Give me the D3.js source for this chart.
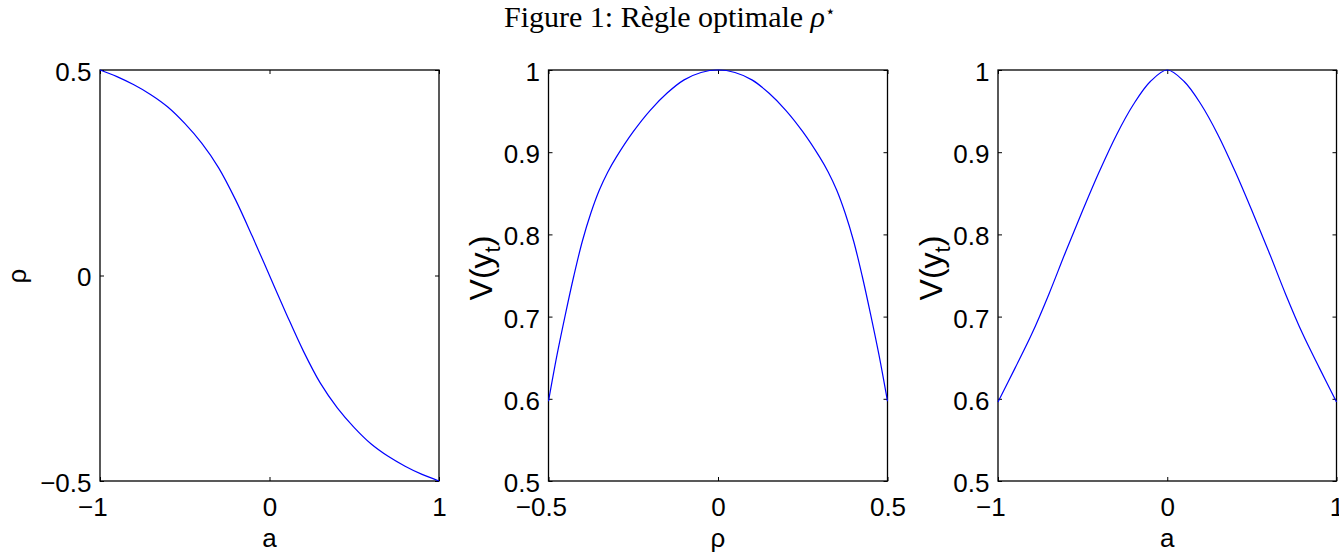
<!DOCTYPE html>
<html>
<head>
<meta charset="utf-8">
<script src="https://cdn.jsdelivr.net/npm/d3@7"></script>
<style>
  body { margin: 0; background: #fff; }
  svg { display: block; }
</style>
</head>
<body>
<svg id="fig" width="1339" height="552"></svg>
<script>
// values
const aGrid = [-1, -0.9, -0.8, -0.7, -0.6, -0.5, -0.4, -0.3, -0.2, -0.1, 0, 0.1, 0.2, 0.3, 0.4, 0.5, 0.6, 0.7, 0.8, 0.9, 1];
const rhoOfA = [0.5, 0.484, 0.464, 0.440, 0.410, 0.370, 0.322, 0.262, 0.184, 0.094, 0,
  -0.094, -0.184, -0.262, -0.322, -0.370, -0.410, -0.440, -0.464, -0.484, -0.5];
const rhoGrid = [-0.5, -0.475, -0.45, -0.425, -0.4, -0.375, -0.35, -0.325, -0.3, -0.25, -0.2, -0.15, -0.1, -0.05, 0,
  0.05, 0.1, 0.15, 0.2, 0.25, 0.3, 0.325, 0.35, 0.375, 0.4, 0.425, 0.45, 0.475, 0.5];
const vOfRho = [0.597, 0.653, 0.703, 0.750, 0.792, 0.826, 0.854, 0.876, 0.894, 0.925, 0.951, 0.972, 0.988, 0.997, 1,
  0.997, 0.988, 0.972, 0.951, 0.925, 0.894, 0.876, 0.854, 0.826, 0.792, 0.750, 0.703, 0.653, 0.597];
const vOfA = [0.596, 0.637, 0.679, 0.727, 0.779, 0.829, 0.877, 0.921, 0.958, 0.986, 1,
  0.986, 0.958, 0.921, 0.877, 0.829, 0.779, 0.727, 0.679, 0.637, 0.596];

const aTicks = [-1, 0, 1];
const rhoTicks = [-0.5, 0, 0.5];
const vTicks = [0.5, 0.6, 0.7, 0.8, 0.9, 1];

const FS = 26;
const SANS = "Liberation Sans, Arial, Helvetica, sans-serif";
const TOP = 70, BOTTOM = 481;

const svg = d3.select("#fig");

// caption
svg.append("text")
  .attr("x", 670)
  .attr("y", 27)
  .attr("text-anchor", "middle")
  .attr("font-family", "Liberation Serif, Times New Roman, serif")
  .attr("font-size", 30)
  .html("Figure 1: Règle optimale <tspan font-style='italic'>ρ</tspan><tspan font-size='17' dy='-10'>⋆</tspan>");

const panels = [
  { left: 100, right: 439, xs: aGrid, ys: rhoOfA, xDom: [-1, 1], yDom: [-0.5, 0.5], xt: aTicks, yt: rhoTicks, xlab: "a", ylab: "rho" },
  { left: 548.5, right: 887.5, xs: rhoGrid, ys: vOfRho, xDom: [-0.5, 0.5], yDom: [0.5, 1], xt: rhoTicks, yt: vTicks, xlab: "ρ", ylab: "V" },
  { left: 998, right: 1336.5, xs: aGrid, ys: vOfA, xDom: [-1, 1], yDom: [0.5, 1], xt: aTicks, yt: vTicks, xlab: "a", ylab: "V" }
];

const fmt = d => (d < 0 ? "\u2212" : "") + Math.abs(d);

panels.forEach(p => {
  const x = d3.scaleLinear().domain(p.xDom).range([p.left, p.right]);
  const y = d3.scaleLinear().domain(p.yDom).range([BOTTOM, TOP]);
  const g = svg.append("g");

  // ticks, pointing inwards on all four sides
  const bottom = g.append("g")
    .attr("transform", "translate(0," + BOTTOM + ")")
    .call(d3.axisBottom(x).tickValues(p.xt).tickSize(-4).tickSizeOuter(0).tickPadding(17).tickFormat(fmt));
  g.append("g")
    .attr("transform", "translate(0," + TOP + ")")
    .call(d3.axisTop(x).tickValues(p.xt).tickSize(-4).tickSizeOuter(0).tickFormat(""));
  const left = g.append("g")
    .attr("transform", "translate(" + p.left + ",0)")
    .call(d3.axisLeft(y).tickValues(p.yt).tickSize(-4).tickSizeOuter(0).tickPadding(8.5).tickFormat(fmt));
  g.append("g")
    .attr("transform", "translate(" + p.right + ",0)")
    .call(d3.axisRight(y).tickValues(p.yt).tickSize(-4).tickSizeOuter(0).tickFormat(""));

  g.selectAll(".domain").remove();
  g.selectAll(".tick line").attr("stroke", "#000").attr("stroke-width", 1);

  [bottom, left].forEach(ax => ax.attr("font-size", FS).attr("font-family", SANS));
  // the minus sign sits outside the centred number, as in the original
  bottom.selectAll("text").attr("fill", "#000")
    .attr("dx", d => d < 0 ? -0.292 * FS : 0);
  left.selectAll("text").attr("fill", "#000").attr("dy", "0.4em");

  // frame
  g.append("rect")
    .attr("x", p.left).attr("y", TOP)
    .attr("width", p.right - p.left).attr("height", BOTTOM - TOP)
    .attr("fill", "none").attr("stroke", "#000").attr("stroke-width", 1.3);

  // curve
  const line = d3.line()
    .x((d, i) => x(p.xs[i]))
    .y(d => y(d))
    .curve(d3.curveCatmullRom.alpha(0.5));
  g.append("path")
    .datum(p.ys)
    .attr("d", line)
    .attr("fill", "none")
    .attr("stroke", "#0000ff")
    .attr("stroke-width", 1.2);

  // axis titles
  g.append("text")
    .attr("x", (p.left + p.right) / 2)
    .attr("y", 547)
    .attr("text-anchor", "middle")
    .attr("font-family", SANS)
    .attr("font-size", FS)
    .text(p.xlab);

  if (p.ylab === "rho") {
    g.append("text")
      .attr("transform", "translate(" + (p.left - 74) + "," + 276 + ") rotate(-90)")
      .attr("text-anchor", "middle")
      .attr("font-family", SANS)
      .attr("font-size", FS)
      .text("ρ");
  } else {
    g.append("text")
      .attr("transform", "translate(" + (p.left - 56.5) + "," + 268 + ") rotate(-90)")
      .attr("text-anchor", "middle")
      .attr("font-family", SANS)
      .attr("font-size", 32)
      .html("V(y<tspan font-size='22' dy='8'>t</tspan><tspan dy='-8'>)</tspan>");
  }
});
</script>
</body>
</html>
